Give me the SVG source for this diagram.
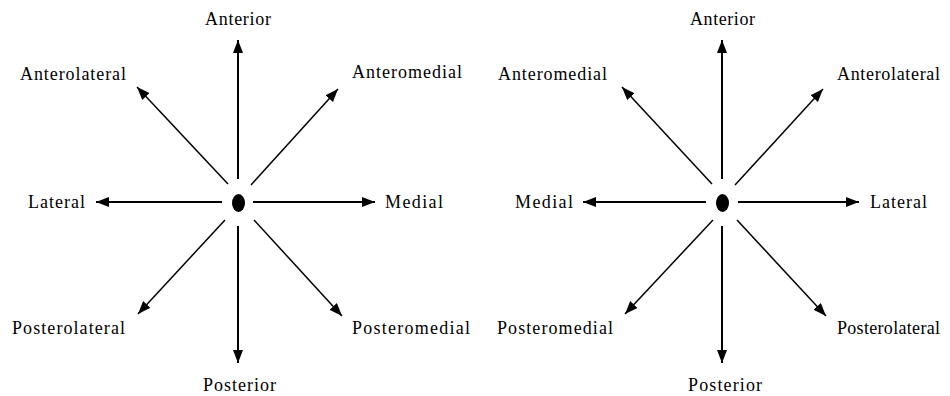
<svg xmlns="http://www.w3.org/2000/svg" width="950" height="396" viewBox="0 0 950 396">
<defs>
<marker id="ah" markerUnits="userSpaceOnUse" markerWidth="14" markerHeight="11" refX="13" refY="5" orient="auto">
<path d="M0,0 L13,5 L0,10 z" fill="#000"/>
</marker>
<style>
.lbl{font-family:"Liberation Serif","Times New Roman",serif;font-size:18px;fill:#000}
.ax{stroke:#000;stroke-width:2;fill:none;marker-end:url(#ah)}
.dg{stroke:#000;stroke-width:1.5;fill:none;marker-end:url(#ah)}
</style>
</defs>
<rect width="950" height="396" fill="#fff"/>
<g id="connectors">
<line class="ax" x1="238" y1="179" x2="238" y2="40"/>
<line class="ax" x1="238" y1="226" x2="238" y2="363"/>
<line class="ax" x1="222" y1="202" x2="96" y2="202"/>
<line class="ax" x1="253" y1="202" x2="375" y2="202"/>
<line class="dg" x1="228" y1="184" x2="137" y2="87"/>
<line class="dg" x1="251" y1="185" x2="338" y2="89"/>
<line class="dg" x1="225" y1="220" x2="138" y2="314"/>
<line class="dg" x1="254" y1="220" x2="342" y2="316"/>
<line class="ax" x1="722" y1="179" x2="722" y2="40"/>
<line class="ax" x1="722" y1="226" x2="722" y2="363"/>
<line class="ax" x1="706" y1="202" x2="583" y2="202"/>
<line class="ax" x1="738" y1="202" x2="859" y2="202"/>
<line class="dg" x1="712" y1="184" x2="622" y2="87"/>
<line class="dg" x1="735" y1="185" x2="823" y2="89"/>
<line class="dg" x1="713" y1="220" x2="625" y2="314"/>
<line class="dg" x1="737" y1="220" x2="826" y2="316"/>
</g>
<g id="center-left"><ellipse cx="238.5" cy="203" rx="6.5" ry="9" fill="#000"/></g>
<g id="center-right"><ellipse cx="722.5" cy="203" rx="6.5" ry="9" fill="#000"/></g>
<g id="l-anterior"><text class="lbl" x="205" y="25" textLength="66" lengthAdjust="spacing">Anterior</text></g>
<g id="l-anterolateral"><text class="lbl" x="20" y="80" textLength="106" lengthAdjust="spacing">Anterolateral</text></g>
<g id="l-anteromedial"><text class="lbl" x="352" y="78" textLength="110" lengthAdjust="spacing">Anteromedial</text></g>
<g id="l-lateral"><text class="lbl" x="28" y="208" textLength="57" lengthAdjust="spacing">Lateral</text></g>
<g id="l-medial"><text class="lbl" x="385" y="208" textLength="58" lengthAdjust="spacing">Medial</text></g>
<g id="l-posterolateral"><text class="lbl" x="12" y="334" textLength="113" lengthAdjust="spacing">Posterolateral</text></g>
<g id="l-posteromedial"><text class="lbl" x="352" y="334" textLength="118" lengthAdjust="spacing">Posteromedial</text></g>
<g id="l-posterior"><text class="lbl" x="203" y="391" textLength="73" lengthAdjust="spacing">Posterior</text></g>
<g id="r-anterior"><text class="lbl" x="690" y="25" textLength="65" lengthAdjust="spacing">Anterior</text></g>
<g id="r-anteromedial"><text class="lbl" x="498" y="80" textLength="109" lengthAdjust="spacing">Anteromedial</text></g>
<g id="r-anterolateral"><text class="lbl" x="837" y="80" textLength="103" lengthAdjust="spacing">Anterolateral</text></g>
<g id="r-medial"><text class="lbl" x="515" y="208" textLength="58" lengthAdjust="spacing">Medial</text></g>
<g id="r-lateral"><text class="lbl" x="870" y="208" textLength="57" lengthAdjust="spacing">Lateral</text></g>
<g id="r-posteromedial"><text class="lbl" x="497" y="334" textLength="116" lengthAdjust="spacing">Posteromedial</text></g>
<g id="r-posterolateral"><text class="lbl" x="837" y="334" textLength="103" lengthAdjust="spacing">Posterolateral</text></g>
<g id="r-posterior"><text class="lbl" x="688" y="391" textLength="74" lengthAdjust="spacing">Posterior</text></g>
</svg>
